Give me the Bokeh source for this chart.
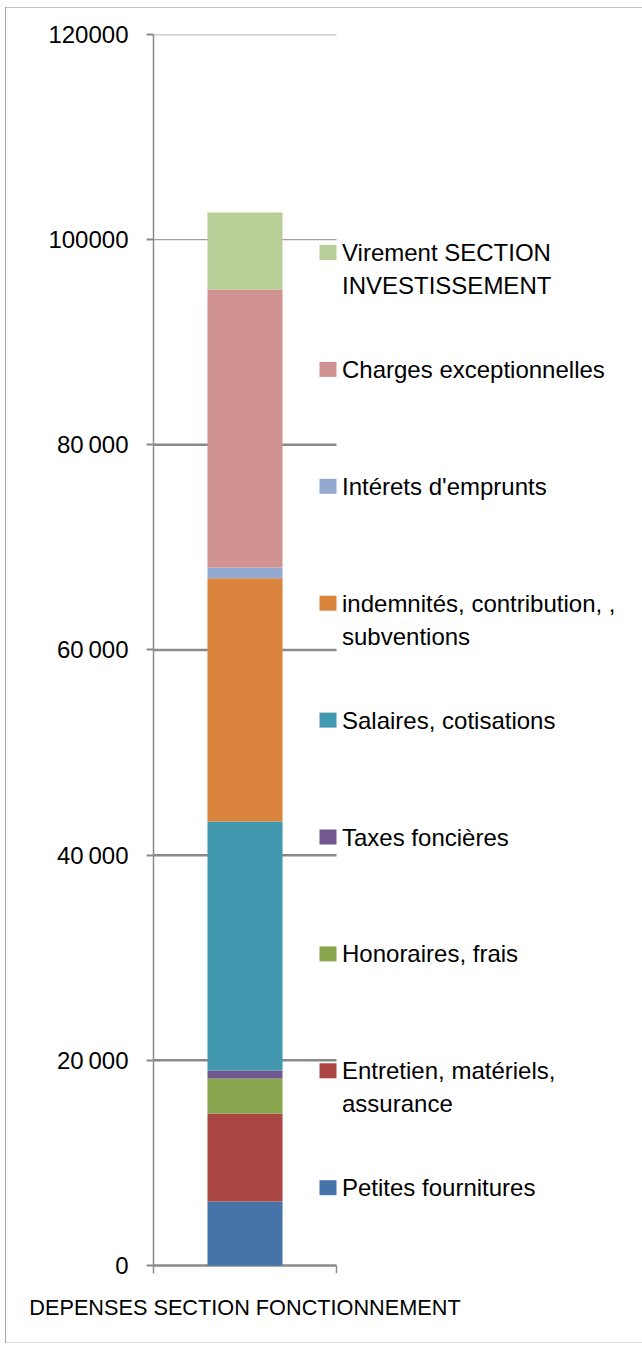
from bokeh.plotting import figure
from bokeh.models import Range1d, FixedTicker
from bokeh.core.properties import value
from bokeh.embed import file_html
from bokeh.resources import INLINE

# ---------------- data ----------------
categories = ["DEPENSES SECTION FONCTIONNEMENT"]
series_names = [
    "Petites fournitures",
    "Entretien, matériels,\nassurance",
    "Honoraires, frais",
    "Taxes foncières",
    "Salaires, cotisations",
    "indemnités,  contribution, ,\nsubventions",
    "Intérets d'emprunts",
    "Charges exceptionnelles",
    "Virement SECTION\nINVESTISSEMENT",
]
series_values = [6240, 8580, 3410, 780, 24270, 23720, 1040, 27100, 7500]
series_colors = [
    "#4572A7", "#AA4643", "#89A54E", "#71588F", "#4198AF",
    "#DB843D", "#93A9CF", "#D19392", "#B9CD96",
]
y_ticks = [0, 20000, 40000, 60000, 80000, 100000, 120000]
y_tick_labels = ["0", "20\u2009000", "40\u2009000", "60\u2009000", "80\u2009000", "100000", "120000"]

# ---------------- layout / style ----------------
FONT = "Liberation Sans"
TXT = "#000000"
GRID = "#8a8a8a"
CAT_PX = 183          # width of the category band in px
FRAME_W = 489
FRAME_H = 1239
Y_MIN, Y_MAX = -780, 120000
BAR_W = 0.41

p = figure(
    frame_width=FRAME_W, frame_height=FRAME_H,
    min_border_left=153, min_border_right=0, min_border_top=34, min_border_bottom=72,
    x_range=Range1d(-0.5, -0.5 + FRAME_W / CAT_PX),
    y_range=Range1d(Y_MIN, Y_MAX),
    output_backend="svg", toolbar_location=None,
)
p.outline_line_color = None
p.background_fill_color = "white"
p.border_fill_color = None
p.styles = {"box-shadow": (
    "inset 0 7px 0 #ffffff, inset 0 -2px 0 #ffffff, "
    "inset 5px 0 0 #ffffff, inset 6px 0 0 #a8a8a8, "
    "inset 0 8px 0 #c4c4c4, inset 0 -3px 0 #dcdcdc"
)}
p.xgrid.visible = False
p.ygrid.visible = False

# y axis
ya = p.yaxis[0]
ya.ticker = FixedTicker(ticks=y_ticks)
ya.major_label_overrides = {t: l for t, l in zip(y_ticks, y_tick_labels)}
ya.axis_line_color = GRID
ya.axis_line_width = 1.5
ya.major_tick_line_color = GRID
ya.major_tick_line_width = 2
ya.major_tick_out = 7
ya.major_tick_in = 0
ya.minor_tick_line_color = None
ya.major_label_standoff = 18
ya.major_label_text_font = FONT
ya.major_label_text_font_size = "24px"
ya.major_label_text_color = TXT

# x axis (category label only)
xa = p.xaxis[0]
xa.ticker = FixedTicker(ticks=[0])
xa.major_label_overrides = {0: categories[0]}
xa.axis_line_color = None
xa.major_tick_line_color = None
xa.minor_tick_line_color = None
xa.major_label_standoff = 15
xa.major_label_text_font = FONT
xa.major_label_text_font_size = "21.7px"
xa.major_label_text_color = TXT

# gridlines across the category band (behind the bar)
grid_w = [2.5 if t < 100000 else 1.3 for t in y_ticks]
grid_c = [GRID if t < 100000 else "#a0a0a0" for t in y_ticks]
p.segment(x0=[-0.5] * len(y_ticks), x1=[0.5] * len(y_ticks), y0=y_ticks, y1=y_ticks,
          line_color=grid_c, line_width=grid_w)
# category boundary tick at the right end of the band
p.segment(x0=[0.5], x1=[0.5], y0=[0], y1=[Y_MIN], line_color=GRID, line_width=1.5)

# stacked bar
bottoms, tops = [], []
acc = 0
for v in series_values:
    bottoms.append(acc)
    acc += v
    tops.append(acc)
p.vbar(x=[0] * len(series_values), bottom=bottoms, top=tops, width=BAR_W,
       fill_color=series_colors, line_color=None)

# legend (drawn manually, reversed order, evenly spaced)
px_per_unit = FRAME_H / (Y_MAX - Y_MIN)
leg_first_px = 218.0     # px below frame top of first legend square centre
leg_step_px = 116.9
order = list(range(len(series_names)))[::-1]
sq_x = 0.5 - 8.5 / CAT_PX
tx_x = 0.5 + 5.5 / CAT_PX
ly, sq_col, line1, line2, ly2 = [], [], [], [], []
for k, i in enumerate(order):
    ypx = leg_first_px + leg_step_px * k
    yd = Y_MAX - ypx / px_per_unit
    ly.append(yd)
    sq_col.append(series_colors[i])
    parts = series_names[i].split("\n")
    line1.append(parts[0])
    if len(parts) > 1:
        line2.append(parts[1])
        ly2.append(yd)

p.rect(x=[sq_x] * len(ly), y=ly, width=17, height=15, width_units="screen",
       height_units="screen", fill_color=sq_col, line_color=None)
p.text(x=[tx_x] * len(ly), y=ly, text=line1, text_baseline="middle", text_align="left",
       text_font=value(FONT), text_font_size="24px", text_color=TXT)
p.text(x=[tx_x] * len(ly2), y=ly2, text=line2, y_offset=33, text_baseline="middle",
       text_align="left", text_font=value(FONT), text_font_size="24px", text_color=TXT)

open("out.html", "w").write(file_html(p, INLINE))
